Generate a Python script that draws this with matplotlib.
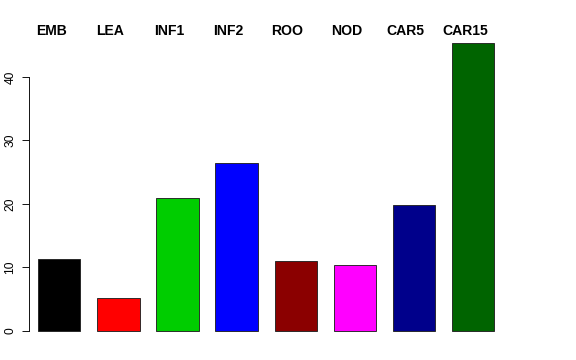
import matplotlib
matplotlib.use("Agg")
import matplotlib.pyplot as plt
import matplotlib.transforms as mtransforms
import numpy as np

plt.rcParams['font.family'] = ['Liberation Sans', 'DejaVu Sans']

# tissue samples and bar heights
tissues = ['EMB', 'LEA', 'INF1', 'INF2', 'ROO', 'NOD', 'CAR5', 'CAR15']
values = [11.3, 5.2, 21.0, 26.5, 11.1, 10.4, 19.8, 45.4]
colors = ['#000000', '#FF0000', '#00CD00', '#0000FF', '#8B0000', '#FF00FF', '#00008B', '#006400']

W, H = 576, 360
fig = plt.figure(figsize=(W / 72, H / 72), dpi=72)
# axes box in pixels: left 29, right 512, top 31.5, bottom 342.5
ax = fig.add_axes([29 / W, (H - 342.5) / H, (512 - 29) / W, (342.5 - 31.5) / H])

x = np.arange(len(tissues)) * 1.4
ax.bar(x, values, width=1.0, color=colors, edgecolor='#222222', linewidth=0.9)

ax.set_xlim(-0.72, 10.73)
ax.set_ylim(-1.81, 47.16)

for s in ['top', 'right', 'bottom']:
    ax.spines[s].set_visible(False)
ax.spines['left'].set_bounds(0, 40)
ax.spines['left'].set_linewidth(0.9)
ax.set_xticks([])
ax.set_yticks([0, 10, 20, 30, 40])
ax.tick_params(axis='y', length=7.5, width=0.9, labelsize=12, pad=5)
for lab in ax.get_yticklabels():
    lab.set_rotation(90)
    lab.set_va('center')

# bold sample names above the bars (sit a little left of the bar centres)
trans = mtransforms.blended_transform_factory(ax.transData, ax.transAxes)
for xi, name in zip(x, tissues):
    ax.text(xi - 0.19, 1.0, name, transform=trans, ha='center', va='center',
            fontsize=14, fontweight='bold')

fig.savefig('out.png', dpi=72)
